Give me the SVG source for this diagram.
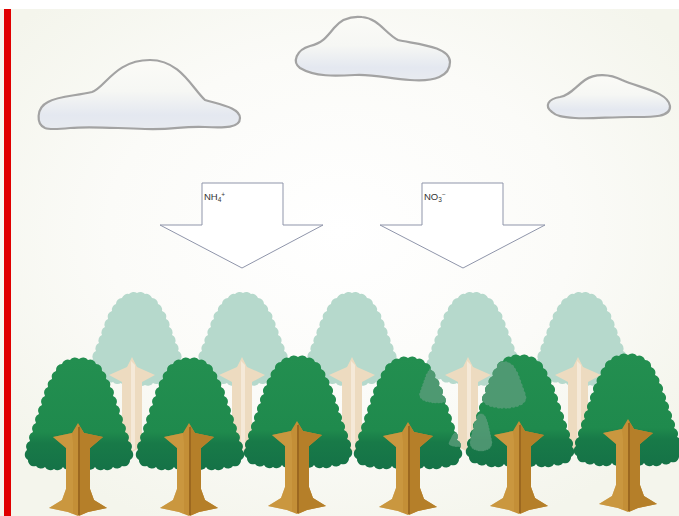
<svg xmlns="http://www.w3.org/2000/svg" xmlns:xlink="http://www.w3.org/1999/xlink" width="679" height="516" viewBox="0 0 679 516">
  <style>
    .cloud { stroke: #a3a3a3; stroke-width: 2.2; fill: url(#gCloud); }
    .arrow { fill: #ffffff; stroke: #8f95aa; stroke-width: 1; }
    .label { font-family: "Liberation Sans", Arial, sans-serif; font-size: 9.5px; fill: #333333; }
    .sub { font-size: 6.5px; }
    .leafBack { fill: #b6d9cc; }
    .patch { fill: #5a9c7a; opacity: 0.8; }
  </style>
  <defs>
    <radialGradient id="gSky" cx="0.5" cy="0.45" r="0.62">
      <stop offset="0" stop-color="#ffffff"/>
      <stop offset="0.55" stop-color="#fbfbf8"/>
      <stop offset="1" stop-color="#f4f5ec"/>
    </radialGradient>
    <linearGradient id="gCloud" x1="0" y1="0" x2="0" y2="1">
      <stop offset="0" stop-color="#fbfbf7"/>
      <stop offset="0.45" stop-color="#f6f7f4"/>
      <stop offset="0.8" stop-color="#e4e8f0"/>
      <stop offset="1" stop-color="#e8ebf0"/>
    </linearGradient>
    <linearGradient id="gFront" x1="0" y1="0" x2="0" y2="1">
      <stop offset="0" stop-color="#238f50"/>
      <stop offset="0.66" stop-color="#1f8a4d"/>
      <stop offset="0.76" stop-color="#187a48"/>
      <stop offset="1" stop-color="#157247"/>
    </linearGradient>

    <!-- scalloped crown of a front tree, top at (0,0) -->
    <path id="crownFront" fill="url(#gFront)" d="M0 0 A6 6 0 0 1 9 1 A6 6 0 0 1 17 5 A6 6 0 0 1 23 12 A6 6 0 0 1 27 20 A6 6 0 0 1 31 28 A6 6 0 0 1 34 37 A6 6 0 0 1 37 46 A6 6 0 0 1 40 55 A6 6 0 0 1 43 64 A6 6 0 0 1 46 73 A6 6 0 0 1 49 82 A6 6 0 0 1 52 91 A6 6 0 0 1 51 101 A6 6 0 0 1 43 107 A6 6 0 0 1 34 108 A6 6 0 0 1 25 110 A6 6 0 0 1 16 108 A6 6 0 0 1 8 110 A6 6 0 0 1 0 108 A6 6 0 0 1 -8 110 A6 6 0 0 1 -16 108 A6 6 0 0 1 -25 110 A6 6 0 0 1 -34 108 A6 6 0 0 1 -43 107 A6 6 0 0 1 -51 101 A6 6 0 0 1 -52 91 A6 6 0 0 1 -49 82 A6 6 0 0 1 -46 73 A6 6 0 0 1 -43 64 A6 6 0 0 1 -40 55 A6 6 0 0 1 -37 46 A6 6 0 0 1 -34 37 A6 6 0 0 1 -31 28 A6 6 0 0 1 -27 20 A6 6 0 0 1 -23 12 A6 6 0 0 1 -17 5 A6 6 0 0 1 -9 1 A6 6 0 0 1 0 0 Z"/>

    <!-- trunk of a front tree, top point at (0,0) -->
    <g id="trunkFront">
      <path fill="#c48f37" d="M0 0 L6 10 L25 14 L12 25 L12 66 L16 77 L29 85 L10 89 L0 93 L-10 89 L-29 85 L-16 77 L-12 66 L-12 25 L-25 14 L-6 10 Z"/>
      <path fill="#b57f29" d="M1 2 L6 10 L25 14 L12 25 L12 66 L16 77 L29 85 L10 89 L1 93 Z"/>
      <path fill="#cf9c45" d="M-6 10 L-25 14 L-12 25 L-12 66 L-16 77 L-29 85 L-10 89 L-5 91 L-5 20 Z" opacity="0.6"/>
      <path stroke="#9c6820" stroke-width="2" fill="none" d="M1 4 L1 92"/>
    </g>

    <!-- crown of a back tree, top at (0,0); fill set where used -->
    <path id="crownBack" d="M0 0 A6 6 0 0 1 8 1 A6 6 0 0 1 15 5 A6 6 0 0 1 21 11 A6 6 0 0 1 25 18 A6 6 0 0 1 29 26 A6 6 0 0 1 32 34 A6 6 0 0 1 35 42 A6 6 0 0 1 38 50 A6 6 0 0 1 41 58 A6 6 0 0 1 44 66 A6 6 0 0 1 45 75 A6 6 0 0 1 40 82 A6 6 0 0 1 32 86 A6 6 0 0 1 24 89 A6 6 0 0 1 16 90 A6 6 0 0 1 8 92 A6 6 0 0 1 0 91 A6 6 0 0 1 -8 92 A6 6 0 0 1 -16 90 A6 6 0 0 1 -24 89 A6 6 0 0 1 -32 86 A6 6 0 0 1 -40 82 A6 6 0 0 1 -45 75 A6 6 0 0 1 -44 66 A6 6 0 0 1 -41 58 A6 6 0 0 1 -38 50 A6 6 0 0 1 -35 42 A6 6 0 0 1 -32 34 A6 6 0 0 1 -29 26 A6 6 0 0 1 -25 18 A6 6 0 0 1 -21 11 A6 6 0 0 1 -15 5 A6 6 0 0 1 -8 1 A6 6 0 0 1 0 0 Z"/>

    <!-- trunk of a back tree, top point at (0,0) -->
    <g id="trunkBack">
      <path fill="#eddbc0" d="M0 0 L5 10 L23 18 L10 25 L10 90 L0 95 L-10 90 L-10 25 L-23 18 L-5 10 Z"/>
      <path fill="#f5e9d8" d="M-1 4 L3 8 L3 92 L-1 94 Z"/>
    </g>

    <clipPath id="clipT4"><use xlink:href="#crownFront" transform="translate(408,358)"/></clipPath>
    <clipPath id="clipT5"><use xlink:href="#crownFront" transform="translate(520,356)"/></clipPath>
  </defs>

  <!-- sky -->
  <rect x="0" y="0" width="679" height="516" fill="url(#gSky)"/>
  <rect x="0" y="0" width="679" height="9" fill="#ffffff"/>
  <rect x="4" y="9" width="7" height="507" fill="#e00000"/>

  <!-- clouds -->
  <g id="cloud-left">
    <path class="cloud" d="M45,128 C36,124 36,108 48,102 C58,96 75,96 92,92 C105,88 115,60 150,60 C180,60 192,88 205,100 C222,105 240,108 240,118 C240,128 225,128 205,127 C180,126 175,130 145,129 C110,128 90,126 70,128 C60,129 50,130 45,128 Z"/>
  </g>
  <g id="cloud-middle">
    <path class="cloud" d="M300,68 C292,62 296,50 310,46 C322,43 326,38 334,28 C342,18 352,16 362,17 C378,18 386,34 398,40 C415,44 450,46 450,62 C450,76 435,82 410,80 C390,79 375,74 355,75 C335,76 315,77 300,68 Z"/>
  </g>
  <g id="cloud-right">
    <path class="cloud" d="M552,112 C544,106 548,99 560,97 C570,95 574,88 585,80 C595,73 610,74 622,80 C640,88 668,92 670,106 C671,118 650,117 630,117 C610,117 590,119 575,118 C562,117 556,116 552,112 Z"/>
  </g>

  <!-- deposition arrows -->
  <g id="arrow-nh4">
    <polygon class="arrow" points="202,183 283,183 283,225 323,225 242,268 160,225 202,225"/>
    <text class="label" x="204" y="200">NH<tspan class="sub" dy="2">4</tspan><tspan class="sub" dy="-5">+</tspan></text>
  </g>
  <g id="arrow-no3">
    <polygon class="arrow" points="422,183 503,183 503,225 545,225 463,268 380,225 422,225"/>
    <text class="label" x="424" y="200">NO<tspan class="sub" dy="2">3</tspan><tspan class="sub" dy="-5">−</tspan></text>
  </g>

  <!-- back row of trees -->
  <g id="back-tree-1"><use class="leafBack" xlink:href="#crownBack" transform="translate(137,293)"/><use xlink:href="#trunkBack" transform="translate(132,357)"/></g>
  <g id="back-tree-2"><use class="leafBack" xlink:href="#crownBack" transform="translate(243,293)"/><use xlink:href="#trunkBack" transform="translate(242,357)"/></g>
  <g id="back-tree-3"><use class="leafBack" xlink:href="#crownBack" transform="translate(352,293)"/><use xlink:href="#trunkBack" transform="translate(352,357)"/></g>
  <g id="back-tree-4"><use class="leafBack" xlink:href="#crownBack" transform="translate(473,293)"/><use xlink:href="#trunkBack" transform="translate(468,357)"/></g>
  <g id="back-tree-5"><use class="leafBack" xlink:href="#crownBack" transform="translate(582,293)"/><use xlink:href="#trunkBack" transform="translate(578,357)"/></g>

  <!-- front row of trees -->
  <g id="front-tree-1"><use xlink:href="#crownFront" transform="translate(79,359)"/><use xlink:href="#trunkFront" transform="translate(78,423)"/></g>
  <g id="front-tree-2"><use xlink:href="#crownFront" transform="translate(190,359)"/><use xlink:href="#trunkFront" transform="translate(189,423)"/></g>
  <g id="front-tree-3"><use xlink:href="#crownFront" transform="translate(298,357)"/><use xlink:href="#trunkFront" transform="translate(297,421)"/></g>
  <g id="front-tree-4">
    <use xlink:href="#crownFront" transform="translate(408,358)"/>
    <g clip-path="url(#clipT4)">
      <use class="patch" xlink:href="#crownBack" transform="translate(437,366) scale(0.38,0.4)"/>
      <use class="patch" xlink:href="#crownBack" transform="translate(458,432) scale(0.2,0.16)"/>
    </g>
    <use xlink:href="#trunkFront" transform="translate(408,422)"/>
  </g>
  <g id="front-tree-5">
    <use xlink:href="#crownFront" transform="translate(520,356)"/>
    <g clip-path="url(#clipT5)">
      <use class="patch" xlink:href="#crownBack" transform="translate(504,362) scale(0.48,0.5)"/>
      <use class="patch" xlink:href="#crownBack" transform="translate(481,414) scale(0.24,0.4)"/>
    </g>
    <use xlink:href="#trunkFront" transform="translate(519,421)"/>
  </g>
  <g id="front-tree-6"><use xlink:href="#crownFront" transform="translate(628,355)"/><use xlink:href="#trunkFront" transform="translate(628,419)"/></g>
</svg>
